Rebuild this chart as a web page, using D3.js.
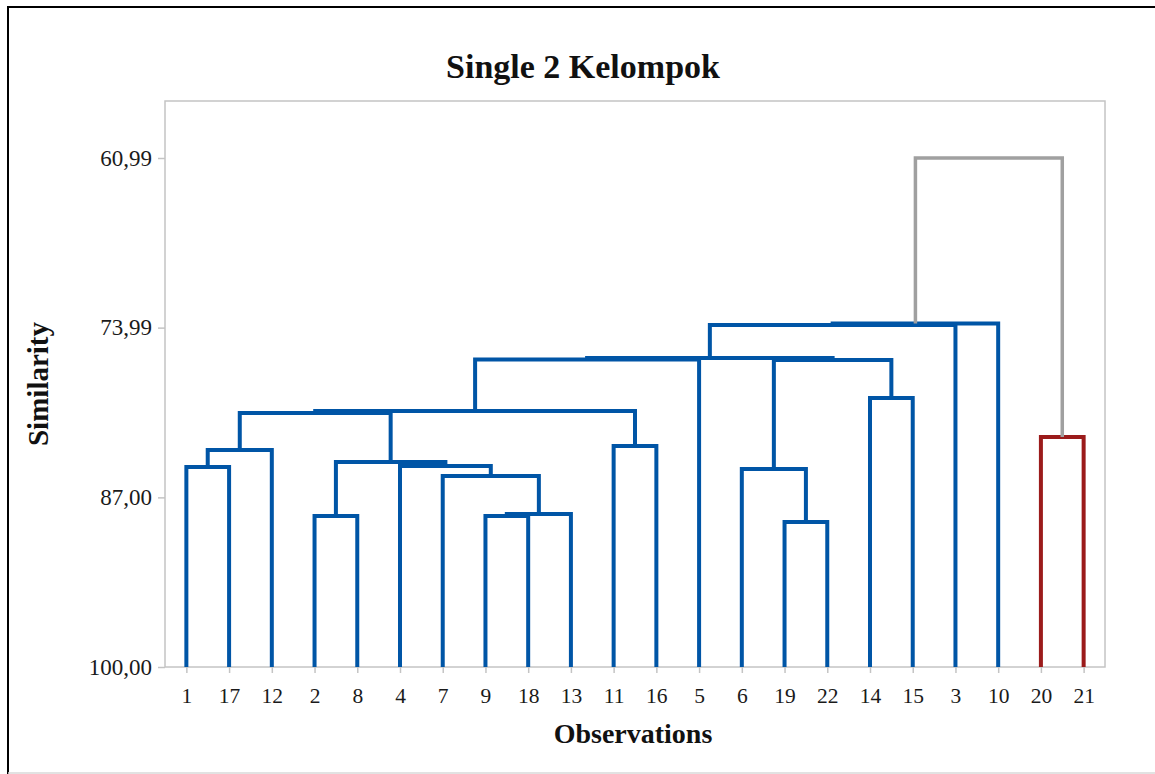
<!DOCTYPE html>
<html>
<head>
<meta charset="utf-8">
<script src="https://cdn.jsdelivr.net/npm/d3@7"></script>
<style>
  html, body { margin: 0; padding: 0; background: #fff; }
  svg { display: block; }
  text { font-family: "Liberation Serif", "Times New Roman", serif; }
</style>
</head>
<body>
<svg id="chart" width="1155" height="774"></svg>
<script>
// ---- data ----
const observations = ["1","17","12","2","8","4","7","9","18","13","11","16","5","6","19","22","14","15","3","10","20","21"];
// each merge joins mergeA[i] and mergeB[i] into cluster "C"+(i+1) at mergeSimilarity[i]
const mergeA = ["1","C1","2","9","C4","7","4","C3","C2","11","C9","C11","19","6","14","C14","C12","C17","C18","20","C19"];
const mergeB = ["17","12","8","18","13","C5","C6","C7","C8","16","C10","5","22","C13","15","C15","C16","3","10","21","C20"];
const mergeSimilarity = [84.67,83.37,88.43,88.43,88.28,85.36,84.60,84.29,80.54,83.07,80.38,76.44,88.89,84.83,79.39,76.48,76.32,73.79,73.68,82.38,60.99];
const yTickValues = [60.99, 73.99, 87.00, 100.00];
const groupRoots = ["C19", "C20"];
const groupColors = ["#0055a6", "#9b1b1b"];
const linkColor = "#a0a0a0";

// ---- layout ----
const svg = d3.select("#chart");
const plot = { left: 165, top: 101, right: 1105, bottom: 667 };

const x = d3.scalePoint().domain(observations).range([plot.left, plot.right]).padding(0.5);
const y = d3.scaleLinear().domain([100, 60.99]).range([plot.bottom, 158]);

// outer border
svg.append("line").attr("x1", 8).attr("y1", 7).attr("x2", 1155).attr("y2", 7).attr("stroke", "#000").attr("stroke-width", 2);
svg.append("line").attr("x1", 8).attr("y1", 6).attr("x2", 8).attr("y2", 774).attr("stroke", "#000").attr("stroke-width", 2);
svg.append("line").attr("x1", 8).attr("y1", 773).attr("x2", 1155).attr("y2", 773).attr("stroke", "#d8d8d8").attr("stroke-width", 1.5);

// plot frame
svg.append("rect")
  .attr("x", plot.left).attr("y", plot.top)
  .attr("width", plot.right - plot.left).attr("height", plot.bottom - plot.top)
  .attr("fill", "none").attr("stroke", "#c4c4c4").attr("stroke-width", 1.5);

// axes
const yAxis = svg.append("g").attr("transform", `translate(${plot.left},0)`)
  .call(d3.axisLeft(y).tickValues(yTickValues).tickSize(7).tickPadding(6)
    .tickFormat(d => d.toFixed(2).replace(".", ",")));
const xAxis = svg.append("g").attr("transform", `translate(0,${plot.bottom})`)
  .call(d3.axisBottom(x).tickSize(6).tickPadding(15));
[yAxis, xAxis].forEach(g => {
  g.select(".domain").remove();
  g.selectAll(".tick line").attr("stroke", "#c4c4c4").attr("stroke-width", 1.5);
  g.selectAll(".tick text").attr("fill", "#1a1a1a")
    .style("font-family", "'Liberation Serif', 'Times New Roman', serif");
});
yAxis.selectAll(".tick text").style("font-size", "23px");
xAxis.selectAll(".tick text").style("font-size", "21.5px");

// build tree
const nodes = {};
observations.forEach(o => { nodes[o] = { x: x(o), sim: 100 }; });
mergeA.forEach((a, i) => {
  const b = mergeB[i];
  nodes["C" + (i + 1)] = { x: (nodes[a].x + nodes[b].x) / 2, sim: mergeSimilarity[i], a, b };
});
function isIn(id, root) {
  if (id === root) return true;
  const n = nodes[root];
  if (!n.a) return false;
  return isIn(id, n.a) || isIn(id, n.b);
}
function colorOf(id) {
  for (let g = 0; g < groupRoots.length; g++) {
    if (isIn(id, groupRoots[g])) return groupColors[g];
  }
  return linkColor;
}

const links = mergeA.map((a, i) => ({ id: "C" + (i + 1), a, b: mergeB[i], sim: mergeSimilarity[i] }));
svg.append("g").selectAll("path").data(links).join("path")
  .attr("d", d => {
    const na = nodes[d.a], nb = nodes[d.b];
    return `M${na.x},${y(na.sim)}V${y(d.sim)}H${nb.x}V${y(nb.sim)}`;
  })
  .attr("fill", "none")
  .attr("stroke", d => colorOf(d.id))
  .attr("stroke-width", d => colorOf(d.id) === linkColor ? 3.5 : 4)
  .attr("stroke-linejoin", "miter");

// titles
svg.append("text").attr("x", 583).attr("y", 78).attr("text-anchor", "middle")
  .style("font-size", "34px").style("font-weight", "bold").attr("fill", "#111")
  .text("Single 2 Kelompok");
svg.append("text").attr("x", 633).attr("y", 743).attr("text-anchor", "middle")
  .style("font-size", "28px").style("font-weight", "bold").attr("fill", "#111")
  .text("Observations");
svg.append("text").attr("transform", "translate(48,384) rotate(-90)").attr("text-anchor", "middle")
  .style("font-size", "29px").style("font-weight", "bold").attr("fill", "#111")
  .text("Similarity");
</script>
</body>
</html>
